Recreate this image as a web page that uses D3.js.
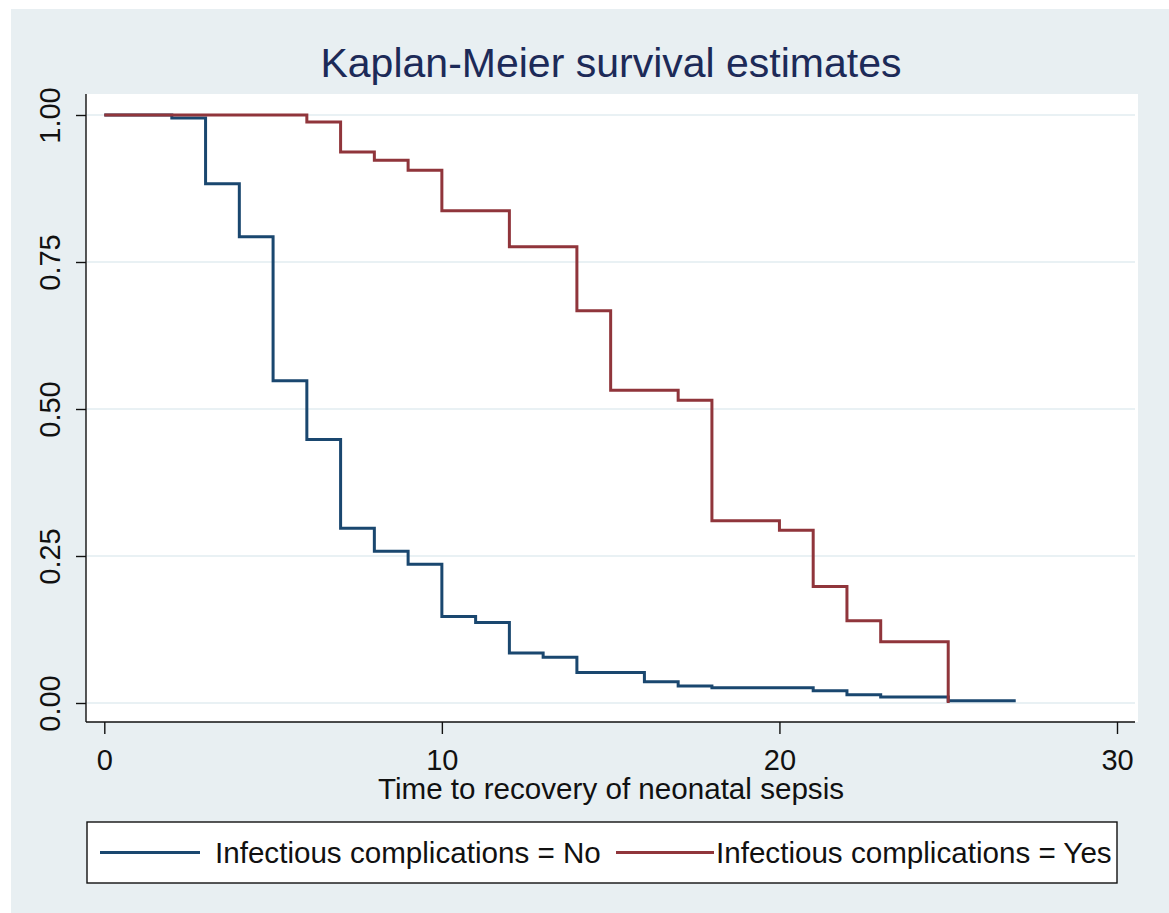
<!DOCTYPE html>
<html>
<head>
<meta charset="utf-8">
<script src="https://cdn.jsdelivr.net/npm/d3@7"></script>
<style>
  body { margin: 0; background: #fff; }
  svg { display: block; font-family: Arial, "Liberation Sans", sans-serif; }
</style>
</head>
<body>
<div id="chart"></div>
<script>
const width = 1169;
const height = 913;

// Kaplan-Meier step data
const noTimes = [0, 2, 3, 4, 5, 6, 7, 8, 9, 10, 11, 12, 13, 14, 16, 17, 18, 21, 22, 23, 25, 27];
const noSurv = [1.0, 0.995, 0.883, 0.793, 0.548, 0.448, 0.297, 0.258, 0.236, 0.147, 0.137, 0.085, 0.078, 0.052, 0.036, 0.029, 0.026, 0.021, 0.014, 0.010, 0.004, 0.004];

const yesTimes = [0, 6, 7, 8, 9, 10, 12, 14, 15, 17, 18, 20, 21, 22, 23, 25];
const yesSurv = [1.0, 0.988, 0.937, 0.923, 0.906, 0.837, 0.776, 0.667, 0.532, 0.515, 0.310, 0.294, 0.198, 0.140, 0.104, 0.0];

const xTicks = [0, 10, 20, 30];
const yTicks = [0, 0.25, 0.5, 0.75, 1];
const legendLabels = ["Infectious complications = No", "Infectious complications = Yes"];

const bg = "#e8eff2";
const blue = "#1a476f";
const red = "#90353b";

const plot = { left: 86, right: 1138, top: 94, bottom: 722 };

const svg = d3.select("#chart").append("svg").attr("width", width).attr("height", height);

// graph region
svg.append("rect").attr("x", 11).attr("y", 9).attr("width", width - 11).attr("height", height - 9).attr("fill", bg);
// plot region
svg.append("rect").attr("x", plot.left).attr("y", plot.top)
    .attr("width", plot.right - plot.left).attr("height", plot.bottom - plot.top).attr("fill", "#fff");

const x = d3.scaleLinear().domain([0, 30]).range([104.3, 1117]);
const y = d3.scaleLinear().domain([0, 1]).range([703, 115]);

// gridlines
svg.append("g").selectAll("line").data(yTicks).join("line")
    .attr("x1", plot.left + 1).attr("x2", 1135)
    .attr("y1", (d) => y(d)).attr("y2", (d) => y(d))
    .attr("stroke", "#e2ecf0").attr("stroke-width", 1.6);

// y axis
const yAxis = d3.axisLeft(y).tickValues(yTicks).tickFormat(d3.format(".2f")).tickSize(10).tickSizeOuter(0);
const gy = svg.append("g").attr("transform", `translate(${plot.left},0)`).call(yAxis);
gy.select(".domain").attr("d", `M0,${plot.top}V${plot.bottom}`).attr("stroke", "#111").attr("stroke-width", 1.4);
gy.selectAll(".tick line").attr("stroke", "#111").attr("stroke-width", 1.4);
gy.selectAll(".tick text")
    .attr("font-size", 29).attr("fill", "#111")
    .attr("x", 0).attr("dy", 0)
    .attr("transform", "translate(-26,0) rotate(-90)")
    .attr("text-anchor", "middle");

// x axis
const xAxis = d3.axisBottom(x).tickValues(xTicks).tickFormat(d3.format("d")).tickSize(12).tickSizeOuter(0);
const gx = svg.append("g").attr("transform", `translate(0,${plot.bottom})`).call(xAxis);
gx.select(".domain").attr("d", `M${plot.left},0H1135`).attr("stroke", "#111").attr("stroke-width", 1.4);
gx.selectAll(".tick line").attr("stroke", "#111").attr("stroke-width", 1.4);
gx.selectAll(".tick text").attr("font-size", 29).attr("fill", "#111").attr("y", 48).attr("dy", 0);

svg.selectAll(".tick text").attr("font-family", "Arial, 'Liberation Sans', sans-serif");

// axis title and chart title
svg.append("text").attr("x", 611).attr("y", 799).attr("text-anchor", "middle")
    .attr("font-size", 29.6).attr("fill", "#111").text("Time to recovery of neonatal sepsis");
svg.append("text").attr("x", 611).attr("y", 77).attr("text-anchor", "middle")
    .attr("font-size", 41).attr("fill", "#1c2a58").text("Kaplan-Meier survival estimates");

// survival curves
const line = d3.line().x((d) => x(d[0])).y((d) => y(d[1])).curve(d3.curveStepAfter);
const series = [
    { pts: d3.zip(noTimes, noSurv), color: blue },
    { pts: d3.zip(yesTimes, yesSurv), color: red },
];
svg.append("g").selectAll("path").data(series).join("path")
    .attr("d", (d) => line(d.pts))
    .attr("fill", "none")
    .attr("stroke", (d) => d.color)
    .attr("stroke-width", 3);

// legend
const legend = svg.append("g");
legend.append("rect").attr("x", 87).attr("y", 822).attr("width", 1030).attr("height", 61)
    .attr("fill", "#fff").attr("stroke", "#111").attr("stroke-width", 1.4);
const legendItems = [
    { label: legendLabels[0], color: blue, x1: 100, x2: 200, tx: 215 },
    { label: legendLabels[1], color: red, x1: 616, x2: 714, tx: 716 },
];
legend.selectAll("line").data(legendItems).join("line")
    .attr("x1", (d) => d.x1).attr("x2", (d) => d.x2)
    .attr("y1", 852.5).attr("y2", 852.5)
    .attr("stroke", (d) => d.color).attr("stroke-width", 3);
legend.selectAll("text").data(legendItems).join("text")
    .attr("x", (d) => d.tx).attr("y", 863)
    .attr("font-size", 29.6).attr("fill", "#111")
    .text((d) => d.label);
</script>
</body>
</html>
